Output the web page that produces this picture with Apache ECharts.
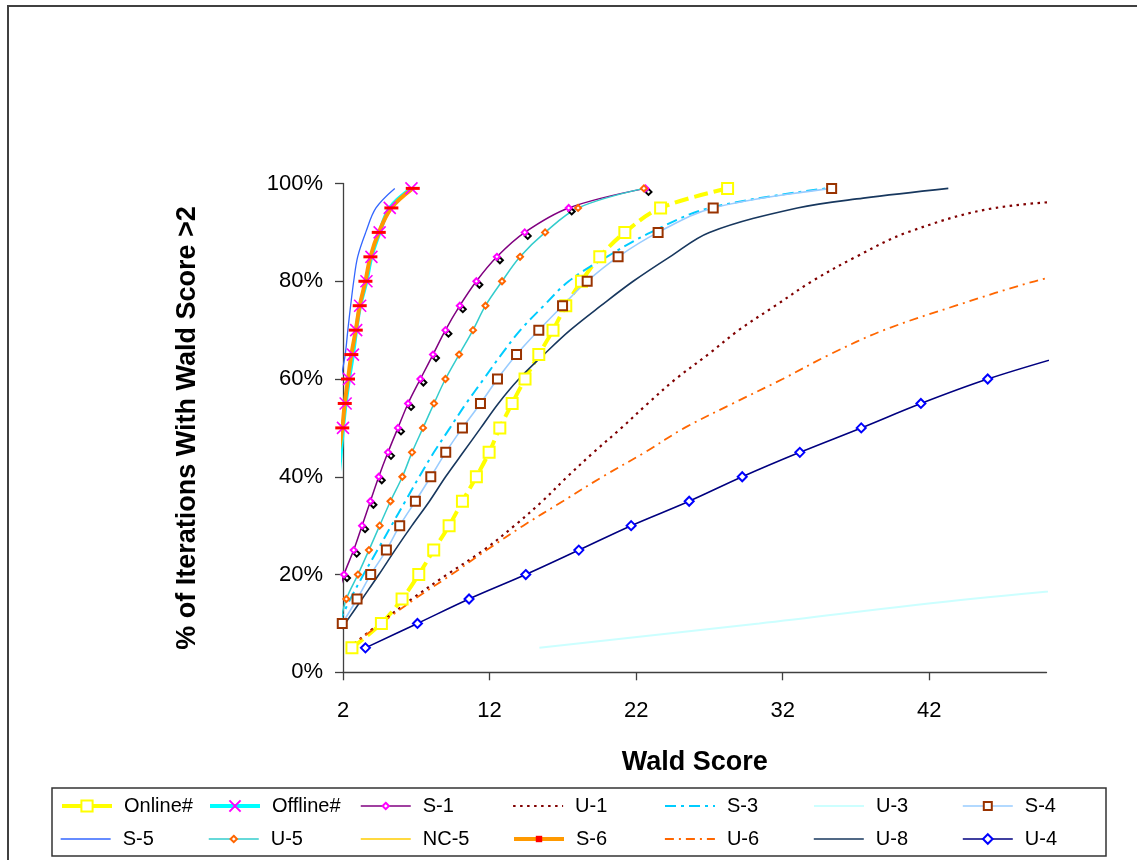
<!DOCTYPE html>
<html><head><meta charset="utf-8">
<script src="https://cdn.jsdelivr.net/npm/echarts@6/dist/echarts.min.js"></script>
<style>html,body{margin:0;padding:0;background:#fff}#c{width:1137px;height:860px}</style>
</head><body><div id="c"></div>
<script>
// ---- data: [Wald score, % of iterations] ----
const xTicks = [2, 12, 22, 32, 42];
const onlineData  = [[2.61,5],[4.62,10],[6.03,15],[7.17,20],[8.19,25],[9.24,30],[10.15,35],[11.1,40],[11.97,45],[12.7,50],[13.54,55],[14.42,60],[15.36,65],[16.33,70],[17.2,75],[18.27,80],[19.52,85],[21.23,90],[23.67,95],[28.24,99]];
const offlineData = [[1.6,35],[1.7,40],[1.85,45],[2.0,50],[2.18,55],[2.41,60],[2.68,65],[2.9,70],[3.17,75],[3.6,80],[3.94,85],[4.5,90],[5.19,95],[6.67,99]];
const s1Data  = [[1.6,15],[2.07,20],[2.73,25],[3.3,30],[3.87,35],[4.44,40],[5.07,45],[5.75,50],[6.44,55],[7.28,60],[8.14,65],[8.99,70],[9.97,75],[11.1,80],[12.5,85],[14.4,90],[17.4,95],[22.64,99]];
const u1Data  = [[2.4,5],[4.5,10],[6.7,15],[9.1,20],[11.6,25],[13.7,30],[15.6,35],[17.3,40],[19.1,45],[21.0,50],[22.8,55],[24.7,60],[26.9,65],[29.0,70],[31.5,75],[34.0,80],[37.0,85],[40.5,90],[46.5,95],[55,97]];
const s3Data  = [[1.7,10],[2.5,15],[3.4,20],[4.35,25],[5.3,30],[6.25,35],[7.2,40],[8.2,45],[9.3,50],[10.4,55],[11.6,60],[12.8,65],[14.1,70],[15.7,75],[17.4,80],[20.0,85],[23.0,90],[27.0,95],[35.0,99]];
const u3Data  = [[15.4,5],[30.4,10],[44.8,15],[63,20]];
const s4Data  = [[1.95,10],[2.96,15],[3.89,20],[4.96,25],[5.87,30],[6.94,35],[7.99,40],[9.01,45],[10.15,50],[11.38,55],[12.54,60],[13.84,65],[15.36,70],[16.98,75],[18.66,80],[20.77,85],[23.5,90],[27.26,95],[35.34,99]];
const s5Data  = [[1.55,55],[1.85,60],[2.15,65],[2.33,70],[2.52,75],[2.73,80],[3.0,85],[3.55,90],[4.25,95],[5.53,99]];
const u5Data  = [[1.8,10],[2.23,15],[3.02,20],[3.77,25],[4.5,30],[5.24,35],[6.05,40],[6.71,45],[7.46,50],[8.21,55],[8.99,60],[9.92,65],[10.87,70],[11.72,75],[12.85,80],[14.08,85],[15.79,90],[18.04,95],[22.53,99]];
const nc5Data = [[1.6,40],[1.8,45],[1.97,50],[2.15,55],[2.37,60],[2.6,65],[2.9,70],[3.17,75],[3.55,80],[3.9,85],[4.45,90],[5.3,95],[6.8,99]];
const s6Data  = [[1.7,45],[1.95,50],[2.12,55],[2.34,60],[2.57,65],[2.87,70],[3.14,75],[3.53,80],[3.87,85],[4.44,90],[5.3,95],[6.76,99]];
const u6Data  = [[2.4,5],[4.6,10],[6.9,15],[9.4,20],[11.8,25],[14.3,30],[17.0,35],[19.7,40],[22.6,45],[25.3,50],[28.6,55],[32.0,60],[35.2,65],[38.9,70],[43.8,75],[49.2,80],[56,85]];
const u8Data  = [[1.6,7.5],[2.15,10],[3.3,15],[4.45,20],[5.55,25],[6.7,30],[7.9,35],[9.0,40],[10.2,45],[11.4,50],[12.6,55],[14.0,60],[15.7,65],[17.5,70],[19.6,75],[21.8,80],[24.3,85],[27.0,90],[33.0,95],[37.5,97],[43.3,99]];
const u4Data  = [[3.53,5],[7.08,10],[10.6,15],[14.47,20],[18.09,25],[21.66,30],[25.62,35],[29.24,40],[33.17,45],[37.36,50],[41.43,55],[45.99,60],[51.5,65]];

const FONT = '"Liberation Sans", Arial, sans-serif';
const XMIN = 2, XMAX = 50;

const defs = [
  {name:'Online#',  data:onlineData,  color:'#FFFF00', width:4,   type:[14,6],     symbol:'emptyRect', size:11, mc:'#FFFF00', mw:2, legendSolid:true, lh:14},
  {name:'Offline#', data:offlineData, color:'#00FFFF', width:4,   type:'solid',    symbol:'path://M0,0L10,10M0,10L10,0', size:12, mc:'#FF00FF', mw:1.6, xmark:true, lh:14},
  {name:'S-1',      data:s1Data,      color:'#800080', width:1.5, type:'solid',    symbol:'emptyDiamond', size:6, mc:'#FF00FF', mw:1.5, lh:8},
  {name:'U-1',      data:u1Data,      color:'#800000', width:2.2, type:[2.5,4.5]},
  {name:'S-3',      data:s3Data,      color:'#00CCFF', width:2,   type:[11,5,3,5]},
  {name:'U-3',      data:u3Data,      color:'#CCFFFF', width:2,   type:'solid'},
  {name:'S-4',      data:s4Data,      color:'#99CCFF', width:1.6, type:'solid',    symbol:'emptyRect', size:9, mc:'#993300', mw:1.6, lh:10},
  {name:'S-5',      data:s5Data,      color:'#3366FF', width:1.3, type:'solid'},
  {name:'U-5',      data:u5Data,      color:'#33CCCC', width:1.5, type:'solid',    symbol:'emptyDiamond', size:6, mc:'#FF6600', mw:1.4, lh:8},
  {name:'NC-5',     data:nc5Data,     color:'#FFCC00', width:1.5, type:'solid'},
  {name:'S-6',      data:s6Data,      color:'#FF9900', width:4,   type:'solid',    symbol:'rect', size:[14,3], mc:'#FF0000', mw:0, filled:true, lh:8},
  {name:'U-6',      data:u6Data,      color:'#FF6600', width:1.8, type:[9,5,2,5]},
  {name:'U-8',      data:u8Data,      color:'#17375E', width:1.6, type:'solid'},
  {name:'U-4',      data:u4Data,      color:'#000080', width:1.6, type:'solid',    symbol:'emptyDiamond', size:9, mc:'#0000FF', mw:1.5, lh:12}
];

function pts(d, hasSym) {
  return d.map(p => (hasSym && p[0] < 1.9) ? {value:p, symbol:'none'} : p);
}

const series = [];
// offset black hollow diamonds drawn beside the S-1 markers
series.push({
  name:'S-1 ', type:'line', data: pts(s1Data, true), smooth:0.35, clip:false,
  lineStyle:{width:0, opacity:0}, symbol:'emptyDiamond', symbolSize:6, symbolOffset:[3,3.5],
  itemStyle:{color:'#000', borderColor:'#000', borderWidth:1.2}, silent:true, z:2
});
defs.forEach(d => {
  const maxX = Math.max(...d.data.map(p => p[0]));
  const s = {
    name:d.name, type:'line', data: pts(d.data, !!d.symbol), smooth:0.35,
    clip: maxX > XMAX,
    lineStyle:{color:d.color, width:d.width, type:d.type, cap:'butt'},
    symbol: d.symbol || 'none', symbolSize: d.size || 0, showSymbol: !!d.symbol,
    emphasis:{disabled:true}, z:2
  };
  if (d.symbol) {
    if (d.filled) s.itemStyle = {color:d.mc, borderWidth:0};
    else if (d.xmark) s.itemStyle = {color:'transparent', borderColor:d.mc, borderWidth:d.mw};
    else s.itemStyle = {color:d.mc, borderColor:d.mc, borderWidth:d.mw};
  } else {
    s.itemStyle = {color:d.color};
  }
  series.push(s);
});

// legend: 7 columns x 2 rows
const colX = [60, 208, 360, 512, 664, 813, 962];
const rowCenter = [806, 839];
const legends = defs.map((d, i) => {
  const h = d.lh || 14;
  const lg = {
    data:[d.name], left: colX[i % 7], top: rowCenter[Math.floor(i / 7)] - 12,
    padding:0, itemWidth:50, itemHeight:h, itemGap:0,
    textStyle:{fontFamily:FONT, fontSize:20, color:'#000', padding:[0,0,0,7], lineHeight:24},
    lineStyle:{color:d.color, width:d.width, type: d.legendSolid ? 'solid' : d.type, opacity:1},
    selectedMode:false
  };
  if (!d.symbol) lg.itemStyle = {opacity:0};
  return lg;
});

const chart = echarts.init(document.getElementById('c'), null, {renderer:'canvas'});
chart.setOption({
  backgroundColor:'#fff',
  animation:false,
  textStyle:{fontFamily:FONT},
  grid:{left:343, top:183.5, right:90.5, bottom:187.7, containLabel:false, outerBoundsMode:'none'},
  xAxis:{
    type:'value', min:XMIN, max:XMAX,
    name:'Wald Score', nameLocation:'middle', nameGap:77,
    nameTextStyle:{fontFamily:FONT, fontSize:27, fontWeight:'bold', color:'#000'},
    axisLine:{show:true, onZero:false, lineStyle:{color:'#404040', width:1.3}},
    axisTick:{show:true, length:8, customValues:xTicks, lineStyle:{color:'#404040', width:1.3}},
    axisLabel:{customValues:xTicks, fontFamily:FONT, fontSize:22, color:'#000', margin:28},
    splitLine:{show:false}
  },
  yAxis:{
    type:'value', min:0, max:100, interval:20,
    name:'% of Iterations With Wald Score >2', nameLocation:'middle', nameGap:142,
    nameTextStyle:{fontFamily:FONT, fontSize:27, fontWeight:'bold', color:'#000'},
    axisLine:{show:true, lineStyle:{color:'#404040', width:1.3}},
    axisTick:{show:true, length:8, lineStyle:{color:'#404040', width:1.3}},
    axisLabel:{formatter:'{value}%', fontFamily:FONT, fontSize:22, color:'#000', margin:20},
    splitLine:{show:false}
  },
  legend: legends,
  graphic:[
    {type:'rect', shape:{x:8, y:6, width:1300, height:1000}, style:{fill:'none', stroke:'#404040', lineWidth:2}, silent:true},
    {type:'rect', shape:{x:52, y:788, width:1054, height:68}, style:{fill:'none', stroke:'#333', lineWidth:1.5}, silent:true}
  ],
  series: series
});
</script></body></html>
